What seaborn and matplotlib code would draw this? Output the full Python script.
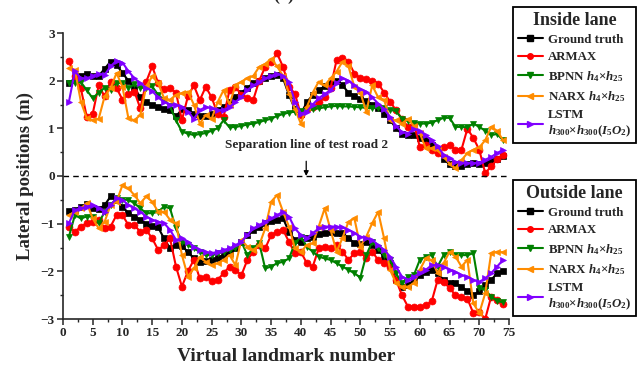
import numpy as np
import matplotlib
matplotlib.use("Agg")
import matplotlib.pyplot as plt
from matplotlib.ticker import MultipleLocator
import seaborn as sns

# ---------------- data ----------------
landmarks = np.arange(1, 75)

in_truth = [1.95, 2.05, 2.1, 2.15, 2.1, 2.1, 2.25, 2.4, 2.33, 2.16, 2.0, 1.85, 1.65, 1.55, 1.5, 1.45, 1.4, 1.38, 1.25, 1.4,
            1.38, 1.3, 1.25, 1.25, 1.3, 1.38, 1.45, 1.55, 1.65, 1.75, 1.85, 1.95, 2.0, 2.05, 2.1, 2.12, 2.05, 1.7, 1.4, 1.3,
            1.55, 1.7, 1.8, 1.88, 1.95, 2.0, 1.9, 1.75, 1.68, 1.62, 1.58, 1.5, 1.42, 1.3, 1.18, 1.0, 0.88, 0.86, 0.85, 0.8,
            0.75, 0.65, 0.55, 0.35, 0.25, 0.2, 0.22, 0.26, 0.27, 0.26, 0.28, 0.32, 0.35, 0.42]
in_armax = [2.41, 2.09, 1.84, 1.24, 1.31, 1.9, 1.67, 1.98, 1.85, 1.6, 1.72, 1.77, 1.42, 1.98, 2.3, 1.95, 1.82, 1.84, 1.75, 1.17,
            1.67, 1.9, 1.59, 1.87, 1.65, 1.3, 1.24, 1.8, 1.87, 1.7, 1.63, 1.6, 2.0, 2.29, 2.4, 2.57, 2.29, 1.87, 1.73, 1.28,
            1.4, 1.45, 1.55, 1.65, 1.85, 2.43, 2.48, 2.4, 2.15, 2.05, 2.03, 2.0, 1.94, 1.75, 1.56, 1.38, 1.2, 1.03, 1.1, 0.61,
            0.65, 0.55, 0.48, 0.6, 0.65, 0.55, 0.55, 0.99, 0.8, 0.55, 0.06, 0.2, 0.35, 0.45]
in_bpnn = [1.95, 1.95, 1.97, 1.8, 1.63, 1.75, 1.85, 1.8, 1.95, 1.95, 1.85, 1.92, 1.85, 1.85, 1.88, 1.7, 1.6, 1.46, 1.17, 0.93,
           0.89, 0.86, 0.88, 0.9, 0.95, 1.0, 1.17, 1.02, 1.03, 1.05, 1.08, 1.1, 1.13, 1.17, 1.2, 1.26, 1.3, 1.33, 1.35, 1.37,
           1.38, 1.4, 1.42, 1.44, 1.46, 1.47, 1.46, 1.46, 1.45, 1.44, 1.43, 1.42, 1.43, 1.42, 1.39, 1.36, 1.2, 1.15, 1.12, 1.1,
           1.1, 1.12, 1.17, 1.22, 1.22, 1.03, 1.03, 1.02, 1.1, 1.03, 0.95, 0.86, 0.88, 0.75]
in_narx = [2.27, 2.23, 1.56, 1.21, 1.17, 1.2, 1.67, 1.84, 2.16, 1.87, 1.21, 1.17, 1.28, 1.88, 2.09, 1.95, 1.63, 1.6, 1.7, 1.74,
           1.77, 1.5, 1.1, 1.28, 1.2, 1.55, 1.8, 1.5, 1.9, 1.98, 2.05, 2.1, 2.29, 2.35, 2.46, 2.3, 2.1, 1.73, 1.4, 1.1,
           1.45, 1.75, 1.98, 1.9, 2.05, 2.19, 2.4, 2.3, 1.87, 1.75, 1.35, 1.9, 1.65, 1.6, 1.17, 1.17, 1.1, 1.2, 1.05, 0.9,
           0.58, 0.58, 0.55, 0.4, 0.26, 0.16, 0.33, 0.48, 0.55, 0.6, 0.75, 1.03, 0.95, 0.75]
in_lstm = [1.56, 2.2, 2.05, 2.05, 2.1, 2.15, 2.12, 2.3, 2.42, 2.38, 2.2, 2.05, 1.95, 1.85, 1.78, 1.65, 1.55, 1.5, 1.5, 1.45,
           1.35, 1.2, 1.38, 1.45, 1.42, 1.38, 1.38, 1.45, 1.55, 1.66, 1.8, 1.9, 1.97, 2.05, 2.1, 2.15, 2.1, 1.98, 1.56, 1.31,
           1.35, 1.5, 1.63, 1.72, 1.8, 1.95, 2.05, 2.0, 1.9, 1.82, 1.77, 1.65, 1.52, 1.4, 1.24, 1.05, 0.92, 0.89, 0.99, 0.95,
           0.85, 0.75, 0.62, 0.45, 0.38, 0.3, 0.28, 0.27, 0.27, 0.28, 0.34, 0.4, 0.48, 0.55]

out_truth = [-0.73, -0.72, -0.64, -0.59, -0.68, -0.7, -0.61, -0.43, -0.5, -0.64, -0.78, -0.85, -0.92, -1.0, -1.05, -1.08, -1.31, -1.52, -1.45, -1.47,
             -1.59, -1.73, -1.8, -1.78, -1.76, -1.72, -1.66, -1.62, -1.52, -1.38, -1.24, -1.13, -1.06, -0.99, -0.95, -0.92, -0.89, -1.17, -1.34, -1.38,
             -1.31, -1.27, -1.22, -1.19, -1.17, -1.2, -1.2, -1.3, -1.41, -1.42, -1.38, -1.45, -1.55, -1.69, -1.83, -2.18, -2.32, -2.29, -2.18, -2.08,
             -2.01, -1.97, -2.04, -2.18, -2.25, -2.25, -2.32, -2.42, -2.5, -2.42, -2.29, -2.18, -2.04, -2.0]
out_armax = [-1.06, -1.17, -1.06, -0.99, -0.96, -0.92, -1.1, -1.06, -0.82, -0.82, -1.03, -1.03, -1.17, -1.13, -1.31, -1.55, -1.45, -1.31, -1.9, -2.32,
             -2.0, -1.76, -2.15, -2.11, -2.21, -2.18, -2.04, -1.9, -1.97, -2.08, -1.76, -1.59, -1.45, -1.52, -1.24, -1.17, -1.13, -1.38, -1.62, -1.59,
             -1.83, -1.9, -1.52, -1.48, -1.52, -1.45, -1.59, -1.76, -1.62, -1.59, -1.73, -1.59, -1.76, -1.83, -1.9, -2.18, -2.5, -2.74, -2.74, -2.74,
             -2.71, -2.63, -2.18, -2.22, -2.35, -2.5, -2.53, -2.57, -2.88, -2.85, -3.0, -2.53, -2.6, -2.68]
out_bpnn = [-1.27, -0.82, -0.89, -0.85, -0.85, -0.99, -0.75, -0.61, -0.47, -0.5, -0.5, -0.57, -0.68, -0.78, -0.78, -0.75, -0.64, -0.68, -1.1, -1.38,
            -1.45, -1.52, -1.59, -1.66, -1.66, -1.62, -1.59, -1.55, -1.52, -1.38, -1.66, -1.52, -1.41, -1.94, -1.9, -1.83, -1.8, -1.73, -1.41, -1.27,
            -1.48, -1.59, -1.69, -1.73, -1.76, -1.83, -1.9, -1.97, -2.04, -2.13, -1.66, -1.38, -1.52, -1.66, -1.76, -2.04, -2.25, -2.11, -2.08, -1.76,
            -1.69, -1.66, -1.9, -1.66, -1.59, -1.66, -1.66, -1.66, -1.62, -2.35, -2.39, -2.53, -2.62, -2.65]
out_narx = [-0.82, -0.75, -0.68, -0.57, -0.89, -1.1, -0.96, -0.61, -0.54, -0.19, -0.26, -0.4, -0.57, -0.43, -0.54, -0.75, -0.75, -0.92, -0.99, -1.66,
            -2.11, -1.94, -1.7, -1.8, -1.87, -1.83, -1.76, -1.66, -1.87, -1.34, -1.48, -1.55, -1.45, -1.1, -0.54, -0.4, -0.75, -1.06, -1.52, -1.59,
            -1.45, -1.41, -1.06, -0.68, -1.13, -1.59, -1.3, -0.96, -0.89, -1.48, -1.27, -0.99, -0.75, -1.31, -1.97, -2.25, -2.32, -2.32, -2.25, -1.97,
            -1.73, -1.76, -2.04, -1.83, -1.59, -1.69, -1.9, -1.76, -2.67, -2.88, -2.46, -1.62, -1.59, -1.6]
out_lstm = [-0.99, -0.71, -0.68, -0.64, -0.61, -0.68, -0.75, -0.61, -0.47, -0.5, -0.61, -0.68, -0.75, -0.85, -0.92, -0.96, -0.99, -1.13, -1.34, -1.31,
            -1.38, -1.48, -1.55, -1.59, -1.62, -1.59, -1.55, -1.52, -1.45, -1.38, -1.24, -1.1, -1.03, -0.96, -0.89, -0.82, -0.75, -0.85, -1.1, -1.24,
            -1.31, -1.2, -1.1, -1.06, -1.06, -1.06, -1.08, -1.13, -1.2, -1.27, -1.31, -1.34, -1.45, -1.55, -1.69, -1.9, -2.11, -2.18, -2.11, -2.04,
            -1.97, -1.87, -1.87, -1.9, -1.97, -2.01, -2.08, -2.11, -2.18, -2.22, -2.15, -2.04, -1.9, -1.76]

series_labels = ["Ground truth", "ARMAX", r"BPNN $h_4$×$h_{25}$", r"NARX $h_4$×$h_{25}$",
                 "LSTM\n$h_{300}$×$h_{300}$($I_5O_2$)"]
x_ticks = list(range(0, 76, 5))
y_ticks = [-3, -2, -1, 0, 1, 2, 3]

# ---------------- style ----------------
sns.set_style("ticks")
plt.rcParams["font.family"] = ["Liberation Serif", "DejaVu Serif"]
plt.rcParams["font.weight"] = "bold"
plt.rcParams["mathtext.fontset"] = "custom"
plt.rcParams["mathtext.rm"] = "Liberation Serif:bold"
plt.rcParams["mathtext.it"] = "Liberation Serif:italic:bold"
plt.rcParams["mathtext.bf"] = "Liberation Serif:bold"
plt.rcParams["axes.linewidth"] = 1.2

colors = ["#000000", "#FF0000", "#008000", "#FF8C00", "#8000FF"]
markers = ["s", "o", "v", "<", ">"]

fig = plt.figure(figsize=(6.42, 3.72), dpi=100)
ax = fig.add_axes([63 / 642, 53 / 372, 446 / 642, 286 / 372])

inside = [in_truth, in_armax, in_bpnn, in_narx, in_lstm]
outside = [out_truth, out_armax, out_bpnn, out_narx, out_lstm]

handles = []
for vals_in, vals_out, c, m, lab in zip(inside, outside, colors, markers, series_labels):
    for vals in (vals_in, vals_out):
        sns.lineplot(x=landmarks, y=vals, color=c, marker=m, markersize=5,
                     markeredgecolor=c, markeredgewidth=0.5, linewidth=1.5,
                     ax=ax, legend=False)
    handles.append(plt.Line2D([], [], color=c, marker=m, markersize=4,
                              markeredgecolor=c, linewidth=1.5, label=lab))

ax.axhline(0, color="black", linestyle=(0, (4, 3)), linewidth=1.0)
ax.annotate("Separation line of test road 2", xy=(40.9, 0.0), xytext=(40.9, 0.65),
            ha="center", va="center", fontsize=9.5, fontweight="bold",
            arrowprops=dict(arrowstyle="-|>", color="black", lw=0.9,
                            mutation_scale=7, shrinkA=5, shrinkB=0))

ax.set_xlim(0, 75)
ax.set_ylim(-3, 3)
ax.set_xticks(x_ticks)
ax.set_yticks(y_ticks)
ax.xaxis.set_minor_locator(MultipleLocator(2.5))
ax.yaxis.set_minor_locator(MultipleLocator(0.5))
ax.tick_params(axis="both", which="major", direction="out", length=4, width=1.1, labelsize=9.5, pad=2)
ax.tick_params(axis="both", which="minor", direction="out", length=2.5, width=1.0)
for t in ax.get_xticklabels() + ax.get_yticklabels():
    t.set_fontweight("bold")
sns.despine(ax=ax)
ax.set_xlabel("Virtual landmark number", fontsize=14, fontweight="bold", labelpad=6)
ax.set_ylabel("Lateral positions (m)", fontsize=13.5, fontweight="bold", labelpad=5)

leg_kw = dict(handles=handles, loc="upper left", fontsize=9.3, title_fontsize=13,
              frameon=True, fancybox=False, edgecolor="black", framealpha=1,
              handlelength=2.0, handletextpad=0.35, borderpad=0.35, labelspacing=0.42,
              borderaxespad=0)
leg1 = fig.legend(title="Inside lane", bbox_to_anchor=(513 / 642, 1 - 7 / 372), **leg_kw)
leg2 = fig.legend(title="Outside lane", bbox_to_anchor=(513 / 642, 1 - 180 / 372), **leg_kw)
for lg in (leg1, leg2):
    lg.get_title().set_fontweight("bold")
    lg.get_frame().set_linewidth(1.3)

fig.text(284 / 642, 1.012, "(a)", ha="center", va="center", fontsize=13, fontweight="bold")

fig.savefig("out.png", dpi=100)
